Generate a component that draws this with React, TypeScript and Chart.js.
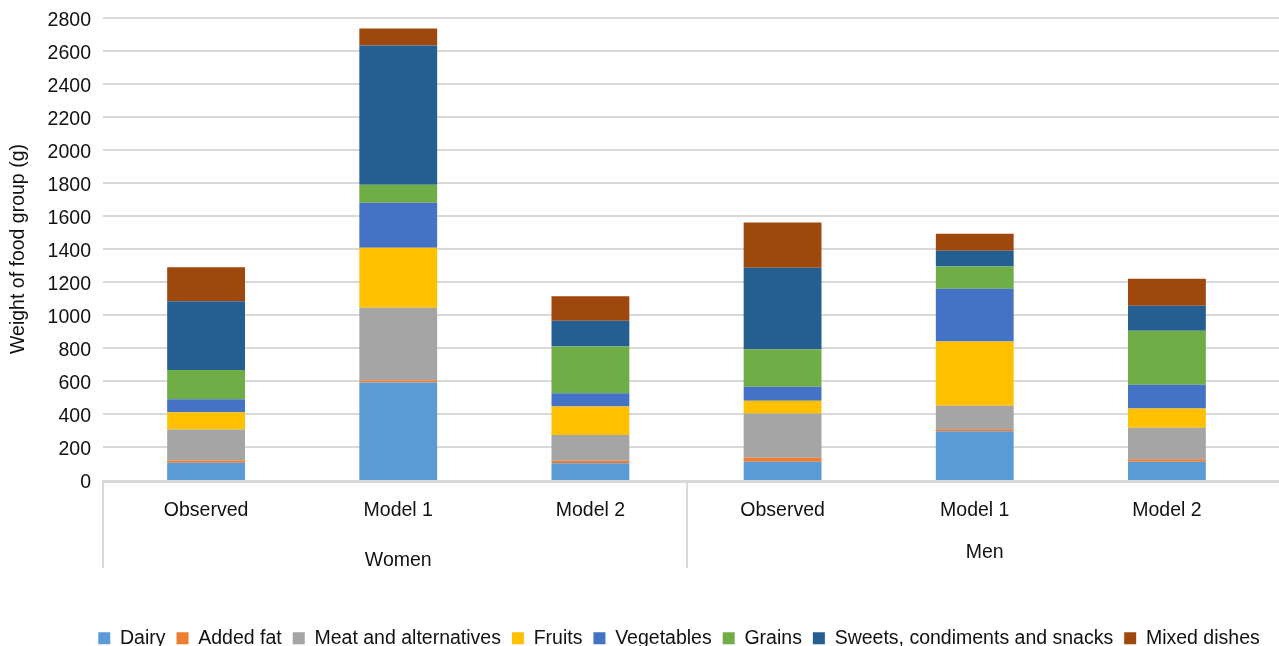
import React, { useEffect, useRef } from "react";
import { Chart, registerables } from "chart.js";

Chart.register(...registerables);

const categories = ["Observed", "Model 1", "Model 2", "Observed", "Model 1", "Model 2"];
const groups = ["Women", "Men"];
const yTicks = [0, 200, 400, 600, 800, 1000, 1200, 1400, 1600, 1800, 2000, 2200, 2400, 2600, 2800];

const dairy = [104, 591, 102, 110, 296, 110];
const addedFat = [14, 12, 14, 25, 12, 16];
const meat = [188, 441, 156, 268, 142, 190];
const fruits = [105, 364, 174, 77, 390, 117];
const vegetables = [79, 273, 80, 85, 319, 144];
const grains = [176, 109, 283, 228, 135, 328];
const sweets = [418, 843, 156, 494, 96, 151];
const mixed = [206, 103, 148, 274, 103, 164];

const seriesNames = [
  "Dairy",
  "Added fat",
  "Meat and alternatives",
  "Fruits",
  "Vegetables",
  "Grains",
  "Sweets, condiments and snacks",
  "Mixed dishes",
];
const seriesData = [dairy, addedFat, meat, fruits, vegetables, grains, sweets, mixed];
const seriesColors = ["#5B9BD5", "#ED7D31", "#A5A5A5", "#FFC000", "#4472C4", "#70AD47", "#255E91", "#9E480E"];

const FONT = "'Liberation Sans', Arial, Helvetica, sans-serif";
const FS = 19.5;
const TXT = "#111111";
const LINE = "#d9d9d9";

const CW = 1358;
const CH = 658;

const decor = {
  id: "decor",
  beforeDatasetsDraw(chart: any) {
    const { ctx, chartArea, scales } = chart;
    const y = scales.y;
    ctx.save();
    ctx.strokeStyle = LINE;
    ctx.lineWidth = 2;
    for (const v of yTicks) {
      if (v === 0) continue;
      const py = Math.round(y.getPixelForValue(v));
      ctx.beginPath();
      ctx.moveTo(chartArea.left - 7, py);
      ctx.lineTo(chart.width, py);
      ctx.stroke();
    }
    ctx.restore();
  },
  afterDatasetsDraw(chart: any) {
    const { ctx, chartArea, scales } = chart;
    const x = scales.x;
    const base = chartArea.bottom;
    ctx.save();
    ctx.strokeStyle = LINE;
    ctx.lineWidth = 3;
    ctx.beginPath();
    ctx.moveTo(chartArea.left - 8, base + 1.5);
    ctx.lineTo(chart.width, base + 1.5);
    ctx.stroke();
    ctx.lineWidth = 2;
    const sepX = [chartArea.left - 7, (x.getPixelForValue(2) + x.getPixelForValue(3)) / 2];
    for (const sx of sepX) {
      ctx.beginPath();
      ctx.moveTo(Math.round(sx), base);
      ctx.lineTo(Math.round(sx), base + 88);
      ctx.stroke();
    }
    ctx.fillStyle = TXT;
    ctx.font = `${FS}px ${FONT}`;
    ctx.textAlign = "center";
    ctx.textBaseline = "middle";
    ctx.fillText(groups[0], x.getPixelForValue(1), base + 81);
    ctx.fillText(groups[1], x.getPixelForValue(4) + 10, base + 73);
    ctx.restore();
  },
};

export default function App() {
  const ref = useRef<HTMLCanvasElement | null>(null);

  useEffect(() => {
    if (!ref.current) return;
    const chart = new Chart(ref.current, {
      type: "bar",
      data: {
        labels: categories,
        datasets: seriesNames.map((name, i) => ({
          label: name,
          data: seriesData[i],
          backgroundColor: seriesColors[i],
          borderWidth: 0,
          barPercentage: 0.405,
          categoryPercentage: 1,
        })),
      },
      options: {
        responsive: false,
        maintainAspectRatio: false,
        animation: false,
        events: [],
        layout: { padding: { top: 18, left: 0, right: 0, bottom: 0 } },
        plugins: {
          tooltip: { enabled: false },
          title: { display: false },
          legend: {
            display: true,
            position: "bottom",
            labels: {
              boxWidth: 12,
              boxHeight: 12,
              padding: 11,
              color: TXT,
              font: { family: FONT, size: FS },
            },
          },
        },
        scales: {
          x: {
            stacked: true,
            grid: { display: false, drawTicks: false },
            border: { display: false },
            ticks: { color: TXT, font: { family: FONT, size: FS }, padding: 19, maxRotation: 0, autoSkip: false },
            afterFit: (s: any) => {
              s.height = 137.5;
            },
          },
          y: {
            stacked: true,
            min: 0,
            max: 2800,
            weight: 1,
            grid: { display: false, drawTicks: false },
            border: { display: false },
            ticks: {
              stepSize: 200,
              color: TXT,
              font: { family: FONT, size: FS },
              padding: 0,
              labelOffset: 3,
              callback: (v: any) => String(v),
            },
            title: {
              display: true,
              text: "Weight of food group (g)",
              color: TXT,
              font: { family: FONT, size: FS },
              padding: { top: 7, bottom: 0 },
            },
            afterFit: (s: any) => {
              s.width = 91;
            },
          },
          yGap: {
            type: "linear",
            position: "left",
            weight: 0,
            display: true,
            grid: { display: false, drawTicks: false },
            border: { display: false },
            ticks: { display: false },
            afterFit: (s: any) => {
              s.width = 19;
            },
          },
          yRight: {
            type: "linear",
            position: "right",
            display: true,
            grid: { display: false, drawTicks: false },
            border: { display: false },
            ticks: { display: false },
            afterFit: (s: any) => {
              s.width = 95;
            },
          },
        },
      },
      plugins: [decor],
    });
    return () => chart.destroy();
  }, []);

  return (
    <div
      style={{
        position: "fixed",
        left: 0,
        top: 0,
        width: 1279,
        height: 646,
        overflow: "hidden",
        background: "#ffffff",
      }}
    >
      <canvas ref={ref} width={CW} height={CH} style={{ width: CW, height: CH, display: "block" }} />
    </div>
  );
}
